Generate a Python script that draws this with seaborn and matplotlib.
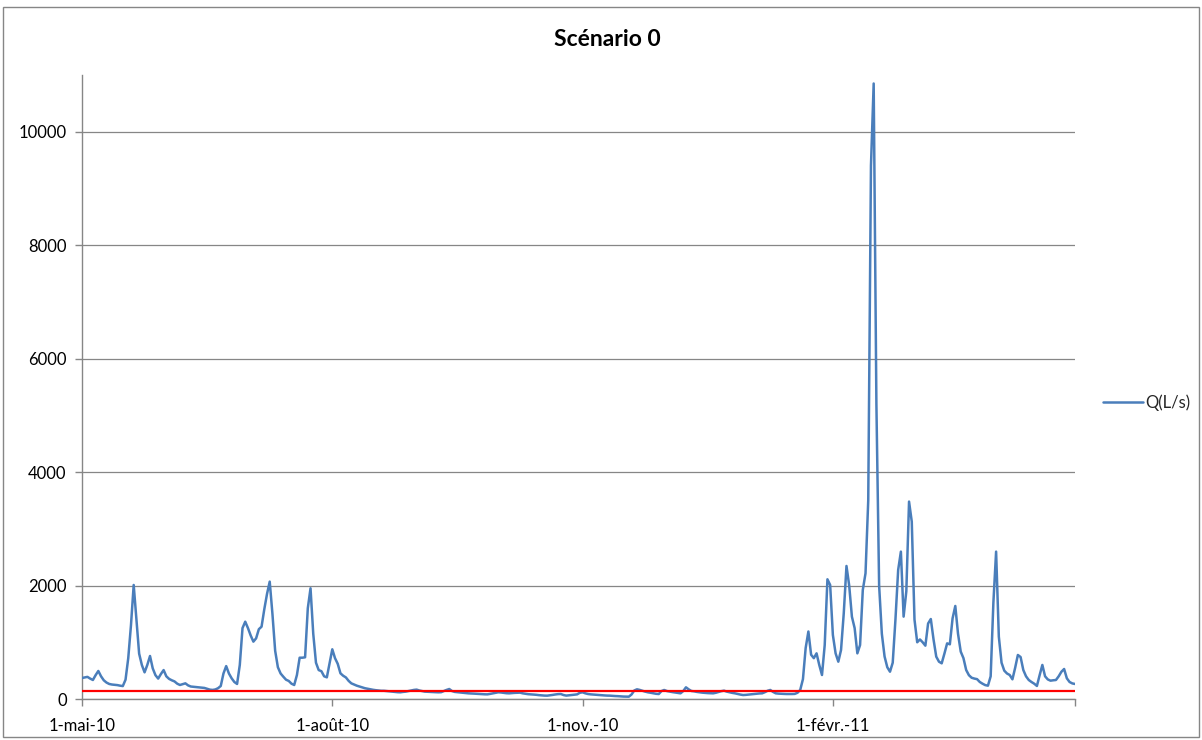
import pandas as pd
import matplotlib
matplotlib.use("Agg")
import matplotlib.pyplot as plt
from matplotlib.patches import Rectangle
import seaborn as sns

# Daily discharge, starting 1 May 2010
start_date = "2010-05-01"
flow_q = [
    370, 380, 390, 360, 335, 420, 494, 400, 330, 290,
    265, 255, 250, 245, 235, 228, 340, 720, 1300, 2010,
    1400, 800, 600, 470, 600, 758, 540, 420, 360, 440,
    510, 400, 355, 330, 310, 270, 247, 262, 276, 240,
    220, 215, 210, 205, 200, 195, 180, 165, 160, 168,
    190, 229, 450, 580, 450, 365, 300, 265, 600, 1250,
    1363, 1250, 1120, 1011, 1070, 1230, 1275, 1580, 1850, 2069,
    1500, 850, 560, 450, 393, 340, 318, 270, 247, 423,
    728, 728, 735, 1600, 1952, 1150, 640, 510, 490, 400,
    382, 629, 876, 720, 620, 453, 410, 380, 320, 276,
    255, 235, 220, 205, 190, 180, 170, 162, 155, 150,
    145, 145, 140, 135, 130, 125, 120, 118, 125, 130,
    140, 150, 160, 165, 150, 140, 130, 128, 125, 122,
    120, 118, 120, 140, 160, 176, 140, 125, 120, 115,
    110, 105, 100, 98, 95, 92, 90, 86, 83, 82,
    90, 100, 110, 118, 115, 108, 102, 100, 104, 108,
    110, 112, 100, 92, 85, 82, 78, 74, 68, 64,
    60, 59, 65, 72, 80, 86, 88, 70, 60, 65,
    70, 76, 82, 110, 118, 100, 88, 82, 78, 75,
    70, 66, 63, 60, 59, 55, 52, 50, 46, 43,
    42, 41, 80, 150, 171, 160, 145, 130, 118, 110,
    100, 92, 88, 140, 159, 140, 130, 122, 115, 108,
    100, 140, 206, 170, 141, 135, 125, 118, 112, 108,
    104, 102, 100, 110, 125, 138, 147, 130, 118, 108,
    100, 88, 78, 70, 73, 78, 82, 88, 93, 98,
    100, 120, 145, 159, 125, 100, 95, 92, 90, 88,
    88, 88, 90, 110, 160, 350, 900, 1190, 780, 720,
    805, 600, 423, 950, 2110, 2010, 1129, 805, 658, 864,
    1510, 2345, 2000, 1450, 1250, 805, 952, 1922, 2216, 3500,
    9400, 10850, 5200, 2000, 1150, 750, 560, 481, 640, 1400,
    2275, 2598, 1452, 1900, 3480, 3127, 1400, 1000, 1050, 1000,
    940, 1330, 1410, 1050, 746, 658, 629, 800, 981, 964,
    1422, 1640, 1150, 835, 720, 511, 420, 375, 360, 350,
    300, 270, 245, 235, 400, 1700, 2598, 1100, 640, 500,
    450, 423, 347, 550, 776, 740, 511, 400, 335, 300,
    270, 230, 420, 600, 400, 345, 323, 330, 335, 400,
    480, 529, 365, 300, 275, 265,
]
threshold_q = 140

y_ticks = [0, 2000, 4000, 6000, 8000, 10000]
y_max = 11000
x_tick_dates = ["2010-05-01", "2010-08-01", "2010-11-01", "2011-02-01", "2011-05-01"]
x_tick_labels = ["1-mai-10", "1-août-10", "1-nov.-10", "1-févr.-11", ""]
series_name = "Q(L/s)"
chart_title = "Scénario 0"

sns.set_theme(style="white")
plt.rcParams["font.family"] = ["Lato", "DejaVu Sans"]

df = pd.DataFrame({
    "date": pd.date_range(start_date, periods=len(flow_q), freq="D"),
    "Q": flow_q,
})

W, H = 1202, 740
fig = plt.figure(figsize=(W / 100, H / 100), dpi=100)
fig.patch.set_facecolor("white")
ax = fig.add_axes([82 / W, 1 - 699 / H, (1075 - 82) / W, (699 - 75) / H])

axis_grey = "#868686"
ax.yaxis.grid(True, color=axis_grey, lw=0.9)
ax.set_axisbelow(True)

sns.lineplot(data=df, x="date", y="Q", ax=ax, color="#4A7EBB", lw=1.8,
             label=series_name, legend=False, zorder=3)
ax.axhline(threshold_q, color="#FF0000", lw=1.6, zorder=4)

ax.set_xlim(pd.Timestamp(x_tick_dates[0]), pd.Timestamp(x_tick_dates[-1]))
ax.set_ylim(0, y_max)
ax.set_yticks(y_ticks)
ax.set_yticklabels([str(v) for v in y_ticks])
ax.set_xticks(pd.to_datetime(x_tick_dates))
ax.set_xticklabels(x_tick_labels)
ax.set_xlabel("")
ax.set_ylabel("")

for side in ("top", "right"):
    ax.spines[side].set_visible(False)
for side in ("left", "bottom"):
    ax.spines[side].set_color(axis_grey)
    ax.spines[side].set_linewidth(1.0)

ax.tick_params(axis="both", which="major", bottom=True, left=True,
               direction="out", length=5, width=1.0, color=axis_grey,
               labelsize=12, labelcolor="#000000")
ax.tick_params(axis="x", pad=9)
ax.tick_params(axis="y", pad=6)

fig.text(607 / W, 1 - 40 / H, chart_title, ha="center", va="center",
         fontsize=16.5, fontweight="bold", color="#000000")

handles, labels = ax.get_legend_handles_labels()
fig.legend(handles[:1], labels[:1], loc="center left",
           bbox_to_anchor=(1103 / W, 1 - 403 / H), frameon=False,
           fontsize=12, handlelength=2.4, handletextpad=0.15,
           borderaxespad=0, borderpad=0)

fig.add_artist(Rectangle((3 / W, 3 / H), (W - 6) / W, (H - 10) / H,
                         transform=fig.transFigure, fill=False,
                         edgecolor=axis_grey, lw=1.0))

fig.savefig("out.png", dpi=100)
